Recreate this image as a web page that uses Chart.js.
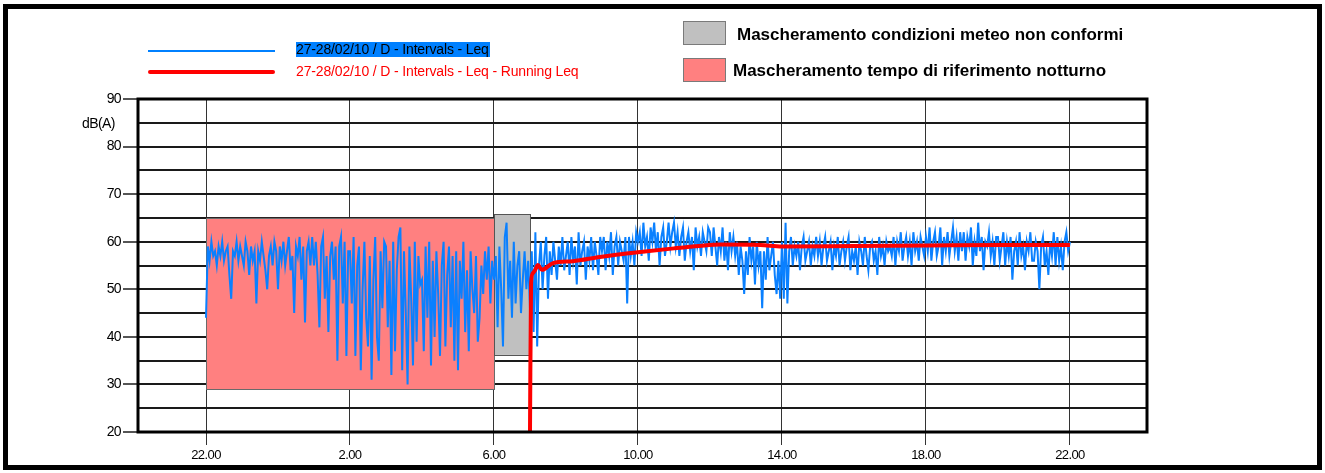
<!DOCTYPE html>
<html>
<head>
<meta charset="utf-8">
<script src="https://cdn.jsdelivr.net/npm/chart.js@4.4.1/dist/chart.umd.min.js"></script>
<style>
  html, body { margin: 0; padding: 0; background: #fff; }
  #wrap { position: relative; width: 1325px; height: 473px; overflow: hidden; font-family: "Liberation Sans", Arial, sans-serif; }
  #frame { position: absolute; left: 3px; top: 4px; width: 1319px; height: 466px; border: 5px solid #000; box-sizing: border-box; pointer-events: none; }
  canvas { position: absolute; left: 0; top: 0; }
  .leg { position: absolute; white-space: nowrap; }
  .swatch { position: absolute; width: 43px; height: 24px; box-sizing: border-box; border: 1px solid #7a7a7a; }
  .seriesText { font-size: 14px; line-height: 15px; letter-spacing: -0.15px; }
  .maskText { font-size: 17px; font-weight: bold; line-height: 19px; letter-spacing: 0; color: #000; }
</style>
</head>
<body>
<div id="wrap">
  <canvas id="chart" width="1325" height="473"></canvas>
  <div class="leg" style="left:148px; top:50px; width:127px; height:2px; background:#0080FF;"></div>
  <div class="leg" style="left:148px; top:70px; width:127px; height:4px; background:#FF0000; border-radius:2px;"></div>
  <div class="leg seriesText" id="legBlue" style="left:296px; top:42px; background:#0080FF; color:#000; padding-right:1px;"></div>
  <div class="leg seriesText" id="legRed" style="left:296px; top:64px; color:#FF0000;"></div>
  <div class="swatch" style="left:683px; top:21px; background:#C0C0C0;"></div>
  <div class="leg maskText" id="legMeteo" style="left:737px; top:25px;"></div>
  <div class="swatch" style="left:683px; top:58px; background:#FF8080;"></div>
  <div class="leg maskText" id="legNight" style="left:733px; top:61px;"></div>
  <div class="leg" style="left:82px; top:115px; font-size:14px; letter-spacing:-0.6px;">dB(A)</div>
  <div id="frame"></div>
</div>
<script>
// hours counted from 22:00 of 27/02
const seriesNames = ["27-28/02/10 / D - Intervals - Leq", "27-28/02/10 / D - Intervals - Leq - Running Leq"];
const maskNames = ["Mascheramento condizioni meteo non conformi", "Mascheramento tempo di riferimento notturno"];

const xTickHours = [0, 4, 8, 12, 16, 20, 24];
const xTickLabels = ["22.00", "2.00", "6.00", "10.00", "14.00", "18.00", "22.00"];
const yGridValues = [20, 25, 30, 35, 40, 45, 50, 55, 60, 65, 70, 75, 80, 85, 90];
const yLabelValues = [20, 30, 40, 50, 60, 70, 80, 90];

// one row per hour, 3-minute Leq values
const intervalMinutes = 3;
const leqIntervals = [
  44, 59, 56, 60, 57, 58, 55, 59, 57, 60, 56, 58, 59, 53, 48, 58, 57, 60, 56, 59,
  57, 55, 60, 58, 53, 59, 56, 58, 47, 58, 56, 60, 57, 54, 50, 57, 59, 55, 60, 58,
  50, 59, 56, 60, 55, 58, 61, 54, 57, 45, 59, 57, 61, 52, 59, 43, 58, 60, 55, 61,
  55, 60, 53, 42, 59, 61, 48, 57, 41, 57, 60, 52, 59, 35, 59, 61, 47, 60, 36, 58,
  58, 47, 61, 36, 55, 59, 33, 50, 60, 44, 38, 57, 31, 52, 61, 40, 35, 58, 46, 60,
  59, 42, 56, 32, 60, 37, 54, 61, 63, 33, 58, 45, 30, 59, 48, 34, 60, 39, 57, 51,
  52, 37, 59, 44, 60, 34, 56, 40, 58, 49, 36, 55, 60, 38, 53, 59, 42, 57, 35, 58,
  33, 56, 48, 60, 41, 54, 37, 58, 50, 45, 57, 39, 44, 55, 49, 58, 52, 59, 47, 56,
  52, 57, 42, 59, 50, 38, 61, 64, 48, 56, 44, 60, 47, 55, 58, 45, 52, 58, 50, 56,
  46, 58, 41, 62, 38, 55, 60, 50, 57, 61, 48, 58, 53, 60, 56, 52, 59, 55, 61, 54,
  57, 60, 53, 61, 56, 59, 51, 62, 55, 58, 60, 52, 59, 56, 61, 54, 60, 57, 53, 61,
  58, 61, 54, 60, 57, 62, 53, 59, 61, 55, 60, 58, 56, 61, 47, 61, 57, 60, 55, 62,
  60, 62, 57, 64, 59, 61, 56, 63, 60, 64, 58, 62, 55, 61, 63, 57, 60, 64, 59, 62,
  64, 59, 62, 57, 61, 63, 56, 60, 62, 58, 61, 54, 63, 59, 61, 57, 62, 60, 58, 63,
  62, 57, 63, 59, 55, 61, 58, 63, 56, 60, 54, 62, 58, 61, 57, 60, 53, 59, 56, 49,
  58, 53, 61, 56, 59, 51, 60, 55, 58, 46, 58, 52, 61, 54, 57, 60, 53, 49, 56, 48,
  60, 48, 64, 47, 58, 61, 55, 59, 57, 60, 54, 59, 61, 56, 58, 60, 55, 59, 57, 61,
  57, 60, 55, 59, 61, 56, 58, 60, 54, 59, 57, 61, 55, 58, 60, 56, 59, 61, 54, 58,
  56, 59, 53, 60, 58, 55, 61, 57, 54, 59, 60, 56, 58, 53, 61, 57, 59, 55, 60, 58,
  59, 57, 61, 55, 60, 58, 62, 56, 59, 61, 57, 60, 55, 62, 58, 60, 56, 61, 59, 57,
  61, 58, 63, 56, 60, 62, 57, 59, 63, 55, 61, 58, 62, 57, 60, 63, 58, 61, 56, 62,
  58, 62, 56, 61, 59, 63, 55, 60, 57, 64, 58, 61, 54, 60, 59, 62, 57, 60, 55, 61,
  61, 56, 59, 62, 55, 60, 57, 61, 52, 58, 60, 55, 62, 57, 59, 54, 60, 58, 62, 56,
  56, 60, 58, 50, 59, 61, 55, 58, 53, 60, 57, 62, 55, 61, 56, 59, 54, 60, 62, 58,
  60
];

const runningHours = [9.0, 9.03, 9.08, 9.14, 9.22, 9.33, 9.64, 10.19, 10.94, 12.0, 13.0, 13.7, 14.3, 15.4, 16.0, 18.0, 20.0, 22.0, 24.0];
const runningLeq = [20, 51.3, 53.4, 54.0, 55.1, 54.1, 55.5, 55.9, 56.8, 57.8, 58.6, 59.1, 59.4, 59.3, 59.0, 59.1, 59.2, 59.3, 59.3];

// masked periods: [from hour, to hour], [low dB, high dB]
const meteoMaskHours = [8, 9];
const meteoMaskDb = [36.2, 65.8];
const nightMaskHours = [0, 8];
const nightMaskDb = [29, 65];

document.getElementById("legBlue").textContent = seriesNames[0];
document.getElementById("legRed").textContent = seriesNames[1];
document.getElementById("legMeteo").textContent = maskNames[0];
document.getElementById("legNight").textContent = maskNames[1];

const masksPlugin = {
  id: "masks",
  beforeDraw(chart) {
    chart.ctx.letterSpacing = "-0.6px";
  },
  beforeDatasetsDraw(chart) {
    const { ctx, scales: { x, y } } = chart;
    const boxes = [
      [nightMaskHours, nightMaskDb, "#FF8080", "#6a6a6a"],
      [meteoMaskHours, meteoMaskDb, "#C0C0C0", "#555"],
    ];
    ctx.save();
    boxes.forEach(([h, db, fill, stroke]) => {
      const x0 = x.getPixelForValue(h[0]), x1 = x.getPixelForValue(h[1]);
      const y0 = y.getPixelForValue(db[1]), y1 = y.getPixelForValue(db[0]);
      ctx.fillStyle = fill;
      ctx.fillRect(x0, y0, x1 - x0, y1 - y0);
      ctx.strokeStyle = stroke;
      ctx.lineWidth = 1;
      ctx.strokeRect(Math.round(x0) + 0.5, Math.round(y0) + 0.5, Math.round(x1 - x0), Math.round(y1 - y0));
    });
    ctx.restore();
  },
  afterDatasetsDraw(chart) {
    const { ctx, chartArea: a } = chart;
    ctx.save();
    ctx.strokeStyle = "#000";
    ctx.lineWidth = 3;
    ctx.strokeRect(a.left, a.top, a.right - a.left, a.bottom - a.top);
    ctx.restore();
  }
};

const ctx = document.getElementById("chart").getContext("2d");
new Chart(ctx, {
  type: "line",
  data: {
    datasets: [
      {
        label: seriesNames[1],
        data: runningHours.map((h, i) => ({ x: h, y: runningLeq[i] })),
        borderColor: "#FF0000",
        borderWidth: 4,
        pointRadius: 0,
        cubicInterpolationMode: "monotone",
        fill: false,
      },
      {
        label: seriesNames[0],
        data: leqIntervals.map((v, i) => ({ x: i * intervalMinutes / 60, y: v })),
        borderColor: "#0A80FF",
        borderWidth: 2,
        pointRadius: 0,
        tension: 0,
        fill: false,
      },
    ],
  },
  options: {
    responsive: false,
    animation: false,
    layout: { padding: { left: 0, right: 178, top: 99, bottom: 0 } },
    plugins: { legend: { display: false }, tooltip: { enabled: false } },
    scales: {
      x: {
        type: "linear",
        min: -1.889,
        max: 26.14,
        afterBuildTicks: (s) => { s.ticks = xTickHours.map((v) => ({ value: v })); },
        afterFit: (s) => { s.height = 41; },
        ticks: {
          callback: (v) => xTickLabels[xTickHours.indexOf(v)],
          autoSkip: false,
          maxRotation: 0,
          padding: 3,
          color: "#000",
          font: { family: "'Liberation Sans', Arial, sans-serif", size: 13 },
        },
        grid: { color: "#333", lineWidth: 1, tickLength: 13, tickColor: "#333" },
        border: { display: false },
      },
      y: {
        min: 20,
        max: 90,
        afterBuildTicks: (s) => { s.ticks = yGridValues.map((v) => ({ value: v })); },
        afterFit: (s) => { s.width = 138; },
        ticks: {
          callback: (v) => (yLabelValues.includes(v) ? String(v) : ""),
          autoSkip: false,
          padding: 2,
          color: "#000",
          font: { family: "'Liberation Sans', Arial, sans-serif", size: 14 },
        },
        grid: {
          color: "#1a1a1a",
          lineWidth: 2,
          tickLength: 15,
          tickColor: (c) => (yLabelValues.includes(c.tick.value) ? "#555" : "rgba(0,0,0,0)"),
        },
        border: { display: false },
      },
    },
  },
  plugins: [masksPlugin],
});
</script>
</body>
</html>
